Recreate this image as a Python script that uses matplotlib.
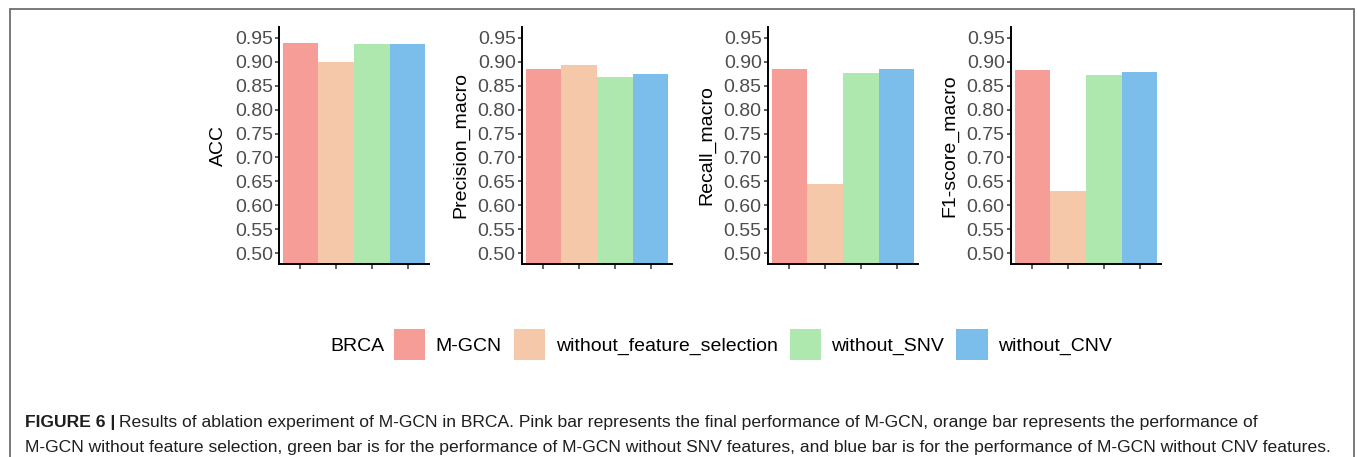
import matplotlib
matplotlib.use("Agg")
import matplotlib.pyplot as plt
from matplotlib.patches import Patch, Rectangle

plt.rcParams['font.family'] = ['Liberation Sans', 'DejaVu Sans']

# ---------- DATA ----------
groups = ["M-GCN", "without_feature_selection", "without_SNV", "without_CNV"]
metrics = ["ACC", "Precision_macro", "Recall_macro", "F1-score_macro"]
acc = [0.940, 0.899, 0.937, 0.937]
precision = [0.884, 0.894, 0.868, 0.875]
recall = [0.885, 0.645, 0.876, 0.884]
f1 = [0.883, 0.630, 0.872, 0.878]
yticks = [0.50, 0.55, 0.60, 0.65, 0.70, 0.75, 0.80, 0.85, 0.90, 0.95]
legend_title = "BRCA"
caption_bold = "FIGURE 6 |"
caption_line1 = ("Results of ablation experiment of M-GCN in BRCA. Pink bar represents the final "
                 "performance of M-GCN, orange bar represents the performance of")
caption_line2 = ("M-GCN without feature selection, green bar is for the performance of M-GCN "
                 "without SNV features, and blue bar is for the performance of M-GCN without CNV features.")

colors = ["#F79D97", "#F6C8AA", "#AFE8AE", "#7CBEEB"]

W, H = 1357, 457
fig = plt.figure(figsize=(W / 100, H / 100), dpi=100)

# panel left edges (pixels)
lefts = [279, 522, 768, 1011]
values = [acc, precision, recall, f1]

for left, name, vals in zip(lefts, metrics, values):
    ax = fig.add_axes([left / W, 1 - 264 / H, 150 / W, 237 / H])
    ax.bar(range(len(groups)), vals, width=1.0, color=colors)
    ax.set_xlim(-0.6, 3.6)
    ax.set_ylim(0.4775, 0.9725)
    ax.set_yticks(yticks)
    ax.set_yticklabels(["%.2f" % t for t in yticks])
    ax.set_xticks(range(len(groups)))
    ax.set_xticklabels([])
    for s in ["top", "right"]:
        ax.spines[s].set_visible(False)
    for s in ["left", "bottom"]:
        ax.spines[s].set_linewidth(1.4)
        ax.spines[s].set_color("black")
    ax.tick_params(axis="y", length=3, width=1.1, color="#333333", pad=1.5,
                   labelsize=14, labelcolor="#4D4D4D")
    ax.tick_params(axis="x", length=3.5, width=1.1, color="#333333")
    ax.set_ylabel(name, fontsize=14, color="black")
    ax.yaxis.set_label_coords(-0.35, 0.5)

# ---------- LEGEND ----------
handles = [Patch(facecolor=c, edgecolor="none", label=g) for c, g in zip(colors, groups)]
fig.legend(handles=handles, ncol=4, loc="center left",
           bbox_to_anchor=(394 / W, 1 - 344.5 / H), frameon=False, fontsize=14,
           handlelength=1.6, handleheight=2.08, handletextpad=0.55,
           columnspacing=0.62, borderpad=0, borderaxespad=0)
fig.text(384 / W, 1 - 346.5 / H, legend_title, fontsize=14, ha="right", va="center")

# ---------- CAPTION ----------
cap_size = 12.6
bold = fig.text(25 / W, 1 - 427 / H, caption_bold, fontsize=cap_size,
                weight="bold", color="#1E1E1E", va="baseline")
fig.canvas.draw()
bx = bold.get_window_extent().x1
fig.text((bx + 4) / W, 1 - 427 / H, caption_line1, fontsize=cap_size,
         color="#1E1E1E", va="baseline")
fig.text(25 / W, 1 - 452 / H, caption_line2, fontsize=cap_size,
         color="#1E1E1E", va="baseline")

# outer frame
fig.patches.append(Rectangle((9.5 / W, -0.1), (1353.5 - 9.5) / W, (H - 8.5) / H + 0.1,
                             transform=fig.transFigure, fill=False,
                             edgecolor="#6E6E6E", linewidth=1.3))

fig.savefig("out.png", dpi=100)
